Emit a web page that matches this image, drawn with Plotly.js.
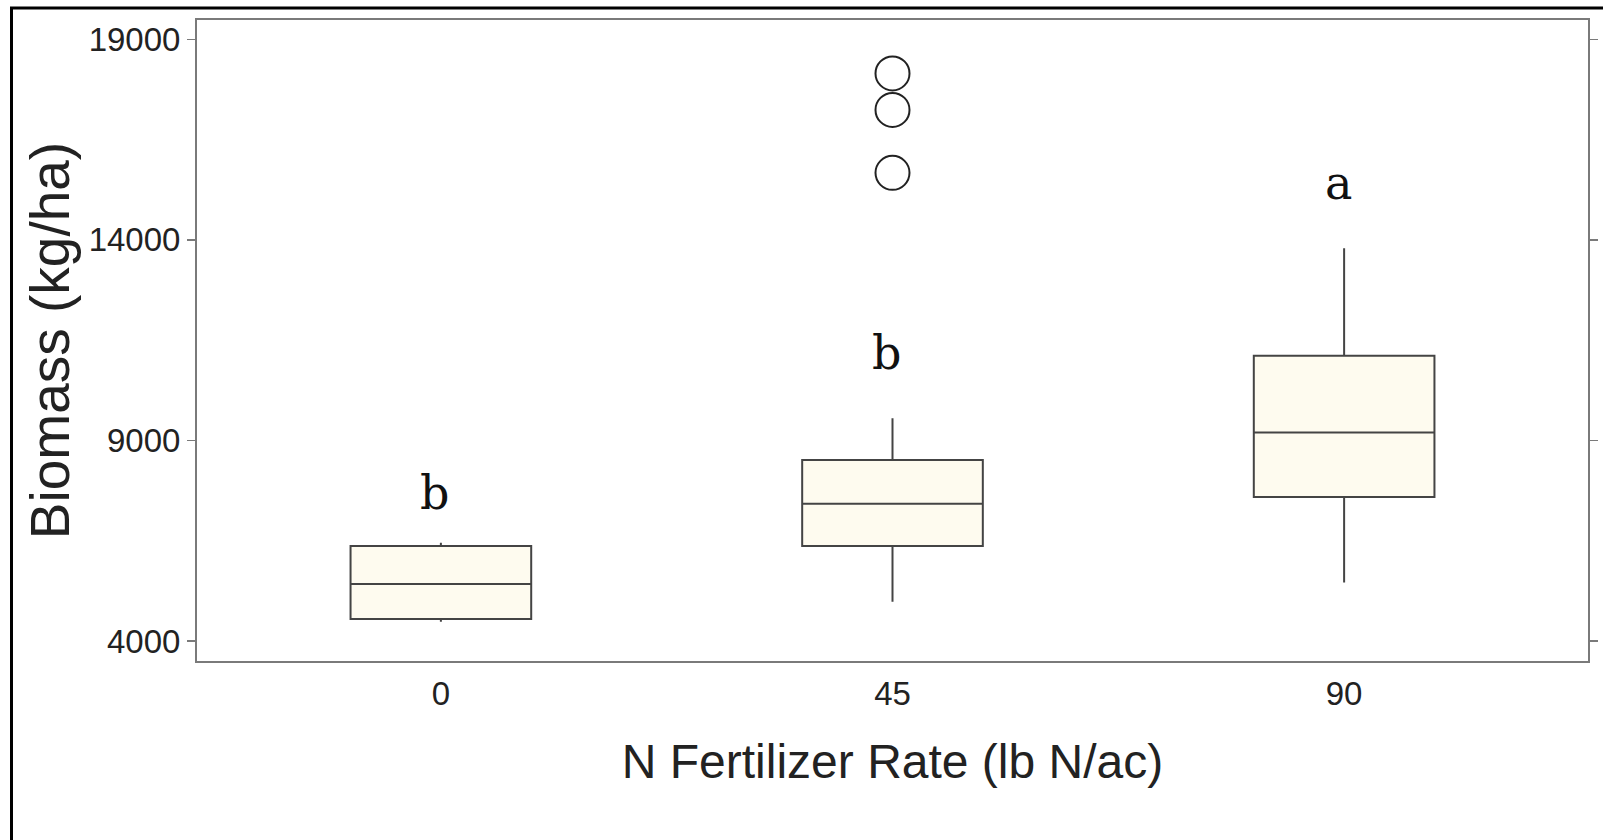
<!DOCTYPE html>
<html>
<head>
<meta charset="utf-8">
<script src="https://cdn.plot.ly/plotly-3.0.1.min.js"></script>
<style>
  html, body { margin: 0; padding: 0; background: #ffffff; }
  #chart { width: 1603px; height: 840px; }
</style>
</head>
<body>
<div id="chart"></div>
<script>
// ---- data ----
const rates = ["0", "45", "90"];
const lowerFence = [4480, 4980, 5460];
const q1 = [4550, 6370, 7590];
const median = [5420, 7420, 9200];
const q3 = [6370, 8510, 11110];
const upperFence = [6450, 9550, 13790];

const outlierRate = ["45", "45", "45"];
const outlierValue = [18150, 17240, 15670];

const letters = ["b", "b", "a"];
const letterY = [7690, 11180, 15430];

const yTicks = [4000, 9000, 14000, 19000];

// ---- traces ----
const boxTrace = {
  type: "box",
  x: rates,
  q1: q1,
  median: median,
  q3: q3,
  lowerfence: lowerFence,
  upperfence: upperFence,
  boxpoints: false,
  width: 0.4,
  whiskerwidth: 0,
  fillcolor: "#FEFBEF",
  line: { color: "#444444", width: 2 },
  hoverinfo: "skip",
  showlegend: false
};

const outlierTrace = {
  type: "scatter",
  mode: "markers",
  x: outlierRate,
  y: outlierValue,
  marker: {
    symbol: "circle-open",
    size: 34,
    color: "#222222",
    line: { color: "#222222", width: 2 }
  },
  hoverinfo: "skip",
  showlegend: false
};

// on a category axis, annotations are placed by category index
const annotations = letters.map((t, i) => ({
  x: i,
  y: letterY[i],
  xref: "x",
  yref: "y",
  text: t,
  showarrow: false,
  xshift: -6,
  font: { family: "DejaVu Serif, serif", size: 46, color: "#111111" }
}));

const layout = {
  width: 1603,
  height: 840,
  paper_bgcolor: "#ffffff",
  plot_bgcolor: "#ffffff",
  margin: { l: 197, r: 15, t: 20, b: 179 },
  showlegend: false,
  xaxis: {
    type: "category",
    categoryorder: "array",
    categoryarray: rates,
    range: [-0.54, 2.54],
    showgrid: false,
    zeroline: false,
    showline: true,
    mirror: true,
    linecolor: "#7a7a7a",
    linewidth: 2,
    ticks: "",
    ticklabelstandoff: 2,
    tickfont: { family: "Liberation Sans, Arial, sans-serif", size: 33, color: "#222222" },
    title: {
      text: "N Fertilizer Rate (lb N/ac)",
      font: { family: "Liberation Sans, Arial, sans-serif", size: 48, color: "#222222" },
      standoff: 34
    },
    automargin: false
  },
  yaxis: {
    range: [3501, 19481],
    tickvals: yTicks,
    ticktext: yTicks.map(String),
    showgrid: false,
    zeroline: false,
    showline: true,
    mirror: "ticks",
    linecolor: "#7a7a7a",
    linewidth: 2,
    ticks: "outside",
    ticklen: 8,
    tickwidth: 1.5,
    tickcolor: "#7a7a7a",
    tickfont: { family: "Liberation Sans, Arial, sans-serif", size: 33, color: "#222222" },
    title: {
      text: "Biomass (kg/ha)",
      font: { family: "Liberation Sans, Arial, sans-serif", size: 55, color: "#222222" },
      standoff: 1
    },
    automargin: false
  },
  annotations: annotations,
  shapes: [
    {
      type: "rect",
      xref: "paper",
      yref: "paper",
      x0: (11.5 - 197) / 1391,
      x1: 1.2,
      y0: -0.6,
      y1: (661 - 8) / 641,
      line: { color: "#000000", width: 3 },
      fillcolor: "rgba(0,0,0,0)",
      layer: "below"
    }
  ]
};

Plotly.newPlot("chart", [boxTrace, outlierTrace], layout, { displayModeBar: false, staticPlot: true });
</script>
</body>
</html>
